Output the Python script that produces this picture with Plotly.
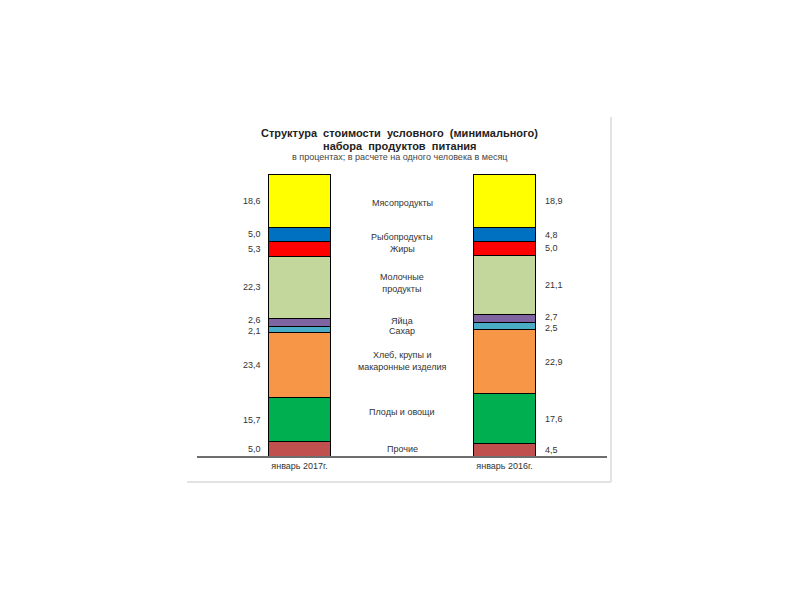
import plotly.graph_objects as go

# categories (x axis) and food groups, bottom of the stack first
categories = ["январь 2017г.", "январь 2016г."]
groups = ["Прочие", "Плоды и овощи", "Хлеб, крупы и<br>макаронные изделия", "Сахар", "Яйца",
          "Молочные<br>продукты", "Жиры", "Рыбопродукты", "Мясопродукты"]
jan_2017 = [5.0, 15.7, 23.4, 2.1, 2.6, 22.3, 5.3, 5.0, 18.6]
jan_2016 = [4.5, 17.6, 22.9, 2.5, 2.7, 21.1, 5.0, 4.8, 18.9]

colors = ["#C0504D", "#00B050", "#F79646", "#4BACC6", "#8064A2",
          "#C3D69B", "#FF0000", "#0070C0", "#FFFF00"]

# small pixel nudges for the labels (positive = up)
name_shift = [0, 7, 2, -3, 0, 3, 0, -3, -2]
val_shift = [0, 0, 0, -2, 2, 0, 0, 0, 0]

FONT = "Liberation Sans, Arial, sans-serif"
TXT = "#333333"


def midpoints(vals):
    out, base = [], 0.0
    for v in vals:
        out.append(base + v / 2)
        base += v
    return out


fig = go.Figure()
for i, g in enumerate(groups):
    fig.add_trace(go.Bar(
        x=[0, 1], y=[jan_2017[i], jan_2016[i]],
        name=g.replace("<br>", " "),
        marker=dict(color=colors[i], line=dict(color="black", width=1)),
        hoverinfo="name+y",
    ))

mid17 = midpoints(jan_2017)
mid16 = midpoints(jan_2016)

# value labels left of the 2017 bar, right of the 2016 bar
for i in range(len(groups)):
    fig.add_annotation(x=0, y=mid17[i], xref="x", yref="y", xanchor="right",
                       xshift=-37, yshift=val_shift[i], showarrow=False,
                       text=f"{jan_2017[i]:.1f}".replace(".", ","),
                       font=dict(family=FONT, size=9, color=TXT))
    fig.add_annotation(x=1, y=mid16[i], xref="x", yref="y", xanchor="left",
                       xshift=38, yshift=val_shift[i], showarrow=False,
                       text=f"{jan_2016[i]:.1f}".replace(".", ","),
                       font=dict(family=FONT, size=9, color=TXT))
    fig.add_annotation(x=0.5, y=(mid17[i] + mid16[i]) / 2, xref="x", yref="y",
                       yshift=name_shift[i], showarrow=False, text=groups[i],
                       font=dict(family=FONT, size=9, color=TXT))

# title block
fig.add_annotation(x=0.495, y=1.166, xref="paper", yref="paper", showarrow=False,
                   text="<b>Структура  стоимости  условного  (минимального)</b>",
                   font=dict(family=FONT, size=11, color="#222222"))
fig.add_annotation(x=0.495, y=1.121, xref="paper", yref="paper", showarrow=False,
                   text="<b>набора  продуктов  питания</b>",
                   font=dict(family=FONT, size=11, color="#222222"))
fig.add_annotation(x=0.495, y=1.076, xref="paper", yref="paper", showarrow=False,
                   text="в процентах; в расчете на одного человека в месяц",
                   font=dict(family=FONT, size=9, color="#444444"))

# light grey frame on the right and bottom
fig.add_shape(type="line", xref="paper", yref="paper", x0=1.0098, x1=1.0098,
              y0=-0.0915, y1=1.1937, line=dict(color="#C8C8C8", width=1))
fig.add_shape(type="line", xref="paper", yref="paper", x0=-0.0244, x1=1.0098,
              y0=-0.0915, y1=-0.0915, line=dict(color="#C8C8C8", width=1))

fig.update_layout(
    barmode="stack",
    bargap=0.7,
    showlegend=False,
    width=800, height=600,
    margin=dict(l=189, r=201, t=164, b=152),
    plot_bgcolor="white", paper_bgcolor="white",
    font=dict(family=FONT, size=9, color=TXT),
)
fig.update_xaxes(
    range=[-0.5, 1.5], tickvals=[0, 1], ticktext=categories,
    showline=True, linecolor="#6E6E6E", linewidth=1.5,
    showgrid=False, zeroline=False, ticks="",
    tickfont=dict(family=FONT, size=9, color=TXT),
)
fig.update_yaxes(range=[0, 101], visible=False, showgrid=False, zeroline=False)

fig.write_html("out.html")
